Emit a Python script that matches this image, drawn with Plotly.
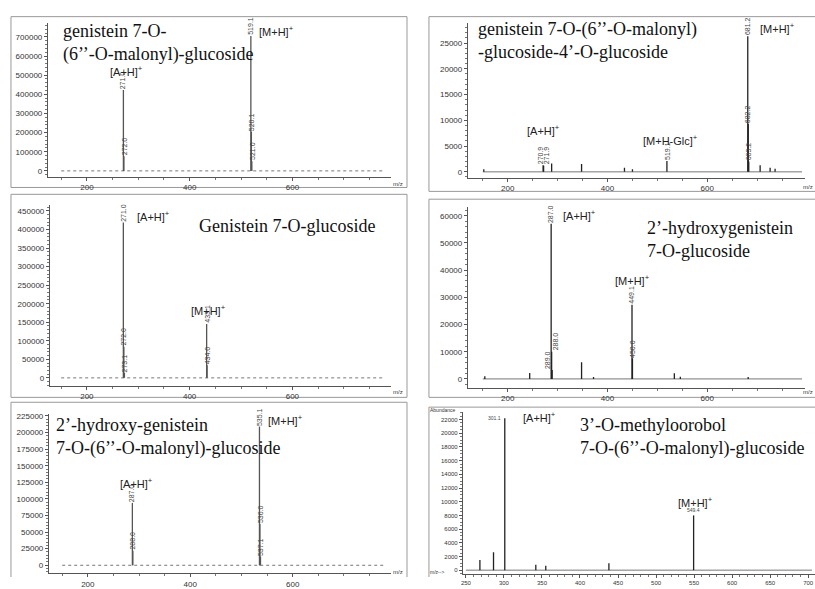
import plotly.graph_objects as go

# ---------------- data ----------------
# Panel 1: genistein 7-O-(6''-O-malonyl)-glucoside
p1_mz = [271.0, 272.0, 519.1, 520.1, 521.0]
p1_int = [423000, 76000, 705000, 204000, 51000]
p1_lab = ["271.0", "272.0", "519.1", "520.1", "521.0"]
p1_minor_mz = []
p1_minor_int = []

# Panel 2: genistein 7-O-(6''-O-malonyl)-glucoside-4'-O-glucoside
p2_mz = [270.9, 271.9, 519.1, 681.2, 682.2, 683.2]
p2_int = [1300, 1200, 2100, 26300, 9300, 2000]
p2_lab = ["270.9", "271.9", "519.1", "681.2", "682.2", "683.2"]
p2_minor_mz = [152, 288, 348, 434, 450, 706, 726, 736]
p2_minor_int = [500, 1600, 1500, 800, 500, 1300, 800, 600]

# Panel 3: Genistein 7-O-glucoside
p3_mz = [271.0, 272.0, 273.1, 433.1, 434.0]
p3_int = [419000, 84000, 13000, 145000, 34000]
p3_lab = ["271.0", "272.0", "273.1", "433.1", "434.0"]
p3_minor_mz = []
p3_minor_int = []

# Panel 4: 2'-hydroxygenistein 7-O-glucoside
p4_mz = [287.0, 288.0, 289.0, 449.1, 450.0]
p4_int = [57000, 10000, 3300, 27300, 7500]
p4_lab = ["287.0", "288.0", "289.0", "449.1", "450.0"]
p4_minor_mz = [154, 244, 348, 372, 534, 546, 682]
p4_minor_int = [1000, 2200, 6100, 700, 2100, 800, 700]

# Panel 5: 2'-hydroxy-genistein 7-O-(6''-O-malonyl)-glucoside
p5_mz = [287.0, 288.0, 535.1, 536.0, 537.1]
p5_int = [94000, 22000, 209000, 62000, 13000]
p5_lab = ["287.0", "288.0", "535.1", "536.0", "537.1"]
p5_minor_mz = []
p5_minor_int = []

# Panel 6: 3'-O-methylorobol 7-O-(6''-O-malonyl)-glucoside
p6_mz = [301.1, 549.4]
p6_int = [22200, 8000]
p6_lab = ["301.1", "549.4"]
p6_minor_mz = [268.4, 286.3, 341.9, 355.0, 438.0]
p6_minor_int = [1500, 2600, 800, 650, 1000]

# baseline (noise floor) extent per panel
base_start = [150, 150, 150, 150, 150, 250]
base_end = [780, 790, 780, 790, 780, 705]

titles = [
    "genistein 7-O-<br>(6’’-O-malonyl)-glucoside",
    "genistein 7-O-(6’’-O-malonyl)<br>-glucoside-4’-O-glucoside",
    "Genistein 7-O-glucoside",
    "2’-hydroxygenistein<br>7-O-glucoside",
    "2’-hydroxy-genistein<br>7-O-(6’’-O-malonyl)-glucoside",
    "3’-O-methyloorobol<br>7-O-(6’’-O-malonyl)-glucoside",
]

# ---------------- geometry helpers ----------------
W, H = 815, 589

def px(x):
    return min(max(x, 0), W) / W

def py(y):
    return 1 - min(max(y, 0), H) / H

panels = [
    dict(xd=(46, 390), yd=(22, 179), xr=[124, 792], yr=[-30600, 770000], xdt=200, xmin=50, ydt=100000, ymin=20000, fs=8),
    dict(xd=(467, 805), yd=(22, 180), xr=[120, 796], yr=[-1140, 28800], xdt=200, xmin=50, ydt=5000, ymin=1000, fs=8),
    dict(xd=(48, 390), yd=(208, 393), xr=[128, 792], yr=[-21000, 466000], xdt=200, xmin=50, ydt=50000, ymin=10000, fs=8),
    dict(xd=(467, 805), yd=(210, 395), xr=[120, 796], yr=[-3200, 63200], xdt=200, xmin=50, ydt=10000, ymin=2000, fs=8),
    dict(xd=(47, 390), yd=(422, 585), xr=[124, 792], yr=[-11800, 228000], xdt=200, xmin=50, ydt=25000, ymin=5000, fs=8),
    dict(xd=(462, 815), yd=(420, 586), xr=[246, 709], yr=[-570, 23100], xdt=50, xmin=10, ydt=2000, ymin=500, fs=6),
]

# small horizontal nudges (px) for rotated peak labels that sit side by side
lab_dx = [
    [0, 0, 0, 0, 0],
    [-3, 3, 0, 0, 0, 0],
    [0, 0, 0, 0, 0],
    [0, 4, -4, 0, 0],
    [0, 0, 0, 0, 0],
    [0, 0],
]

data_sets = [
    (p1_mz, p1_int, p1_lab, p1_minor_mz, p1_minor_int),
    (p2_mz, p2_int, p2_lab, p2_minor_mz, p2_minor_int),
    (p3_mz, p3_int, p3_lab, p3_minor_mz, p3_minor_int),
    (p4_mz, p4_int, p4_lab, p4_minor_mz, p4_minor_int),
    (p5_mz, p5_int, p5_lab, p5_minor_mz, p5_minor_int),
    (p6_mz, p6_int, p6_lab, p6_minor_mz, p6_minor_int),
]

fig = go.Figure()
layout = dict(
    width=W, height=H, margin=dict(l=0, r=0, t=0, b=0), autosize=False,
    paper_bgcolor="white", plot_bgcolor="white", showlegend=False,
)
annotations = []
shapes = []

for i, (p, ds) in enumerate(zip(panels, data_sets)):
    n = i + 1
    xa = "x" if n == 1 else f"x{n}"
    ya = "y" if n == 1 else f"y{n}"
    xkey = "xaxis" if n == 1 else f"xaxis{n}"
    ykey = "yaxis" if n == 1 else f"yaxis{n}"
    tickfont = dict(family="Arial", size=p["fs"], color="#333")
    layout[xkey] = dict(
        domain=[px(p["xd"][0]), px(p["xd"][1])], range=p["xr"], anchor=ya,
        showline=True, linecolor="#555", linewidth=1, ticks="outside", ticklen=3,
        tickcolor="#555", showgrid=False, zeroline=False, dtick=p["xdt"], tick0=0,
        tickfont=tickfont, minor=dict(dtick=p["xmin"], ticks="outside", ticklen=2, tickcolor="#777"),
        fixedrange=True,
    )
    layout[ykey] = dict(
        domain=[py(p["yd"][1]), py(p["yd"][0])], range=p["yr"], anchor=xa,
        showline=True, linecolor="#555", linewidth=1, ticks="outside", ticklen=3,
        tickcolor="#555", showgrid=False, zeroline=False, dtick=p["ydt"], tick0=0,
        tickformat="d", tickfont=tickfont,
        minor=dict(dtick=p["ymin"], ticks="outside", ticklen=2, tickcolor="#777"),
        fixedrange=True,
    )
    mz, inten, lab, mmz, mint = ds
    # baseline noise floor
    fig.add_trace(go.Scatter(
        x=[base_start[i], base_end[i]], y=[0, 0], mode="lines",
        line=dict(color="#777", width=1, dash="dot" if n in (1, 3, 5) else "solid"),
        xaxis=xa, yaxis=ya, hoverinfo="skip"))
    # stick peaks
    xs, ys = [], []
    for m, h in list(zip(mz, inten)) + list(zip(mmz, mint)):
        xs += [m, m, None]
        ys += [0, h, None]
    fig.add_trace(go.Scatter(
        x=xs, y=ys, mode="lines",
        line=dict(color="#555" if n in (1, 3, 5) else "#222", width=1.3),
        xaxis=xa, yaxis=ya, hoverinfo="skip"))
    # peak labels
    for m, h, t, d in zip(mz, inten, lab, lab_dx[i]):
        if n == 6:
            annotations.append(dict(
                x=m, y=h, xref=xa, yref=ya, text=t, showarrow=False,
                textangle=0, xanchor="center", yanchor="bottom",
                xshift=-10 if m < 400 else 0, yshift=-5 if m < 400 else 0,
                font=dict(family="Arial", size=5, color="#444")))
        else:
            annotations.append(dict(
                x=m, y=h, xref=xa, yref=ya, text=t, showarrow=False,
                textangle=-90, xanchor="center", yanchor="bottom", xshift=d,
                font=dict(family="Arial", size=7, color="#444"), borderpad=0))

# panel frames (screen px); sides that run off the picture are left open
frames_px = [
    (9, 15, 406, 190, "ltrb"), (428, 15, 815, 194, "ltb"),
    (9, 197, 406, 405, "ltrb"), (428, 202, 815, 405, "ltb"),
    (9, 410, 406, 589, "ltr"), (428, 415, 815, 589, "lt"),
]
for (x0, y0, x1, y1, sides) in frames_px:
    segs = []
    if "l" in sides:
        segs.append((x0, y0, x0, y1))
    if "t" in sides:
        segs.append((x0, y0, x1, y0))
    if "r" in sides:
        segs.append((x1, y0, x1, y1))
    if "b" in sides:
        segs.append((x0, y1, x1, y1))
    for (a, b, c, d) in segs:
        shapes.append(dict(type="line", xref="paper", yref="paper", layer="below",
                           x0=px(a), x1=px(c), y0=py(b), y1=py(d),
                           line=dict(color="#999", width=1)))

# compound names (serif)
title_pos = [(59, 17), (475, 15), (195, 217), (645, 219), (52, 421), (577, 421)]
for t, (x, y) in zip(titles, title_pos):
    annotations.append(dict(
        x=px(x), y=py(y), xref="paper", yref="paper", text=t, showarrow=False,
        xanchor="left", yanchor="top", align="left",
        font=dict(family="Liberation Serif", size=18, color="#111")))

# ion labels
ion_labels = [
    ("[M+H]<sup>+</sup>", 256, 30, "left"),
    ("[A+H]<sup>+</sup>", 125, 71, "center"),
    ("[M+H]<sup>+</sup>", 758, 27, "left"),
    ("[A+H]<sup>+</sup>", 543, 131, "center"),
    ("[M+H-Glc]<sup>+</sup>", 670, 141, "center"),
    ("[A+H]<sup>+</sup>", 133, 219, "left"),
    ("[M+H]<sup>+</sup>", 207, 315, "center"),
    ("[A+H]<sup>+</sup>", 560, 218, "left"),
    ("[M+H]<sup>+</sup>", 632, 285, "center"),
    ("[M+H]<sup>+</sup>", 265, 428, "left"),
    ("[A+H]<sup>+</sup>", 135, 493, "center"),
    ("[A+H]<sup>+</sup>", 520, 425, "left"),
    ("[M+H]<sup>+</sup>", 695, 512, "center"),
]
for t, x, y, anc in ion_labels:
    annotations.append(dict(
        x=px(x), y=py(y), xref="paper", yref="paper", text=t, showarrow=False,
        xanchor=anc, yanchor="middle",
        font=dict(family="Arial", size=11, color="#222")))

# axis unit labels
for x, y, anc in [(397, 186, "center"), (397, 399, "center"), (397, 584, "center"),
                  (815, 189, "right"), (815, 399, "right")]:
    annotations.append(dict(x=px(x), y=py(y), xref="paper", yref="paper", text="m/z",
                            showarrow=False, xanchor=anc, yanchor="middle",
                            font=dict(family="Arial", size=6, color="#333")))
annotations.append(dict(x=px(427), y=py(418), xref="paper", yref="paper", text="Abundance",
                        showarrow=False, xanchor="left", yanchor="middle",
                        font=dict(family="Arial", size=5, color="#333")))
annotations.append(dict(x=px(427), y=py(584), xref="paper", yref="paper", text="m/z-->",
                        showarrow=False, xanchor="left", yanchor="middle",
                        font=dict(family="Arial", size=5, color="#333")))

layout["annotations"] = annotations
layout["shapes"] = shapes
fig.update_layout(**layout)
fig.write_html(
    "out.html",
    config={"displayModeBar": False},
    post_script=(
        "document.body.style.margin='0px';"
        "document.documentElement.style.overflow='hidden';"
        "document.body.style.overflow='hidden';"
        "var d=document.getElementById('{plot_id}');"
        "if(d){d.style.overflow='hidden';}"
    ),
)
